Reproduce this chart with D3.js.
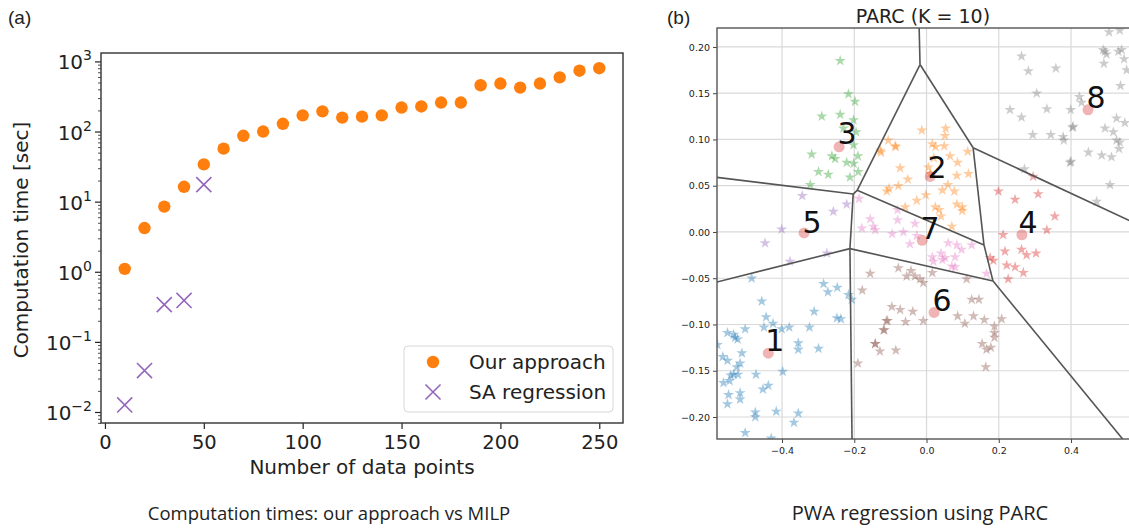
<!DOCTYPE html>
<html>
<head>
<meta charset="utf-8">
<script src="https://cdn.jsdelivr.net/npm/d3@7"></script>
<style>
    body { margin: 0; background: #fff; }
    svg text { font-family: "DejaVu Sans", sans-serif; fill: #222; }
    .caption { font-family: "Open Sans", sans-serif; }
    .panel-tag { font-family: "Liberation Sans", sans-serif; }
</style>
</head>
<body>
<svg id="chart" width="1129" height="528"></svg>
<script>
// ---- panel (a): computation times ----
var nPoints = [10, 20, 30, 40, 50, 60, 70, 80, 90, 100, 110, 120, 130, 140, 150,
    160, 170, 180, 190, 200, 210, 220, 230, 240, 250];
var ourTimes = [1.1, 4.2, 8.5, 16.3, 34, 57, 87, 100, 129, 170, 194, 158, 163, 170, 220,
    228, 259, 259, 457, 484, 423, 484, 593, 737, 800];
var saPoints = [10, 20, 30, 40, 50];
var saTimes = [0.0126, 0.039, 0.34, 0.39, 17.5];
var xTicksA = [0, 50, 100, 150, 200, 250];
var yDecades = [-2, -1, 0, 1, 2, 3];

// ---- panel (b): PARC partition ----
var cluster1 = [[-0.484,-0.050],[-0.456,-0.075],[-0.444,-0.092],[-0.425,-0.099],[-0.450,-0.103],[-0.401,-0.105],
    [-0.380,-0.103],[-0.324,-0.103],[-0.311,-0.086],[-0.285,-0.056],[-0.273,-0.065],[-0.247,-0.060],[-0.216,-0.068],
    [-0.207,-0.073],[-0.248,-0.093],[-0.237,-0.094],[-0.299,-0.126],[-0.355,-0.120],[-0.355,-0.127],[-0.502,-0.105],
    [-0.551,-0.109],[-0.534,-0.111],[-0.530,-0.114],[-0.523,-0.116],[-0.579,-0.122],[-0.511,-0.131],[-0.564,-0.135],
    [-0.551,-0.139],[-0.516,-0.142],[-0.525,-0.146],[-0.534,-0.154],[-0.542,-0.155],[-0.522,-0.154],[-0.472,-0.154],
    [-0.398,-0.151],[-0.562,-0.163],[-0.545,-0.161],[-0.438,-0.166],[-0.453,-0.170],[-0.548,-0.176],[-0.516,-0.174],
    [-0.516,-0.181],[-0.551,-0.186],[-0.474,-0.195],[-0.474,-0.200],[-0.416,-0.194],[-0.355,-0.196],[-0.367,-0.206],
    [-0.502,-0.217],[-0.430,-0.223]];
var cluster2 = [[-0.013,0.110],[0.053,0.112],[0.051,0.104],[-0.106,0.099],[-0.085,0.092],[-0.126,0.086],[0.016,0.095],
    [0.025,0.092],[0.049,0.093],[0.065,0.082],[0.114,0.087],[0.086,0.075],[-0.073,0.069],[0.005,0.070],[0.010,0.063],
    [-0.052,0.057],[0.084,0.061],[0.116,0.063],[-0.104,0.047],[-0.110,0.044],[-0.078,0.050],[0.059,0.051],[0.044,0.045],
    [0.077,0.044],[-0.002,0.040],[-0.027,0.034],[0.084,0.030],[0.099,0.027],[0.099,0.023],[0.024,0.027],[0.035,0.024],
    [-0.059,0.027],[0.040,0.017],[0.070,0.006],[-0.128,0.088],[-0.087,0.093],[0.020,0.080]];
var cluster3 = [[-0.239,0.185],[-0.216,0.149],[-0.198,0.141],[-0.290,0.125],[-0.239,0.127],[-0.202,0.121],[-0.230,0.112],
    [-0.202,0.094],[-0.318,0.084],[-0.262,0.082],[-0.253,0.079],[-0.221,0.075],[-0.202,0.074],[-0.299,0.065],[-0.272,0.062],
    [-0.189,0.065],[-0.212,0.059],[-0.322,0.051],[-0.195,0.108],[-0.190,0.082]];
var cluster4 = [[0.295,0.060],[0.199,0.044],[0.245,0.035],[0.309,0.041],[0.355,0.017],[0.333,0.002],[0.212,-0.003],
    [0.217,-0.021],[0.263,-0.019],[0.277,-0.025],[0.176,-0.028],[0.303,-0.023],[0.222,-0.036],[0.245,-0.038],
    [0.268,-0.044],[0.226,-0.051],[0.185,-0.031]];
var cluster5 = [[-0.344,0.039],[-0.258,0.022],[-0.221,0.030],[-0.401,0.003],[-0.447,-0.012],[-0.378,-0.032],[-0.276,-0.023]];
var cluster6 = [[-0.156,-0.045],[-0.078,-0.039],[-0.055,-0.048],[-0.043,-0.042],[-0.032,-0.048],[-0.018,-0.051],
    [-0.009,-0.055],[0.016,-0.044],[-0.178,-0.063],[-0.096,-0.081],[-0.073,-0.084],[-0.038,-0.086],[-0.108,-0.096],
    [-0.058,-0.097],[-0.009,-0.096],[-0.117,-0.106],[-0.142,-0.121],[-0.129,-0.129],[-0.085,-0.128],[-0.190,-0.142],
    [0.125,-0.073],[0.145,-0.073],[0.086,-0.091],[0.106,-0.099],[0.130,-0.091],[0.160,-0.095],[0.188,-0.102],
    [0.188,-0.109],[0.188,-0.114],[0.208,-0.094],[0.154,-0.121],[0.166,-0.127],[0.178,-0.125],[0.164,-0.146],
    [0.111,-0.051],[-0.111,-0.096],[-0.119,-0.106],[-0.142,-0.121]];
var cluster7 = [[-0.187,0.036],[-0.156,0.014],[-0.179,0.004],[-0.147,0.006],[-0.080,0.024],[-0.080,0.013],[-0.095,-0.002],
    [-0.064,0.000],[-0.032,0.009],[-0.027,-0.004],[-0.046,-0.013],[0.040,-0.023],[0.060,-0.012],[0.084,-0.014],
    [0.097,-0.019],[0.125,-0.014],[0.051,-0.028],[0.079,-0.027],[0.016,-0.027],[0.019,-0.032],[0.044,-0.030],
    [0.070,-0.037],[0.166,-0.045],[0.079,-0.038],[-0.142,0.002]];
var cluster8 = [[0.263,0.190],[0.282,0.174],[0.358,0.177],[0.305,0.150],[0.231,0.132],[0.263,0.124],[0.333,0.133],
    [0.399,0.132],[0.294,0.105],[0.344,0.105],[0.378,0.103],[0.380,0.099],[0.397,0.075],[0.404,0.113],[0.423,0.146],
    [0.429,0.140],[0.494,0.195],[0.531,0.195],[0.491,0.182],[0.537,0.158],[0.526,0.123],[0.494,0.112],[0.517,0.108],
    [0.526,0.099],[0.533,0.090],[0.448,0.086],[0.485,0.083],[0.512,0.081],[0.508,0.051],[0.471,0.033],[0.554,0.175],
    [0.489,0.197],[0.498,0.192],[0.540,0.197],[0.547,0.187],[0.549,0.118],[0.535,0.097],[0.400,0.076],[0.406,0.114],
    [0.271,0.068],[0.535,0.218],[0.505,0.216]];
var clusterColors = ["#1f77b4", "#ff7f0e", "#2ca02c", "#d62728", "#9467bd", "#8c564b", "#e377c2", "#7f7f7f"];
var centroids = [[-0.438,-0.131],[0.010,0.060],[-0.242,0.092],[0.264,-0.003],[-0.339,-0.001],[0.021,-0.087],
    [-0.012,-0.009],[0.447,0.132]];
var labelPos = [[-0.420,-0.117],[0.029,0.070],[-0.220,0.107],[0.281,0.011],[-0.317,0.011],[0.043,-0.074],
    [0.010,0.004],[0.469,0.146]];
var regionNames = ["1", "2", "3", "4", "5", "6", "7", "8"];
// partition edges, pairs of [x, y] ends
var edges = [
    [[-0.021, 0.23], [-0.018, 0.181]],
    [[-0.018, 0.181], [0.129, 0.091]],
    [[-0.018, 0.181], [-0.192, 0.045]],
    [[-0.192, 0.045], [-0.203, 0.041]],
    [[-0.203, 0.041], [-0.60, 0.060]],
    [[-0.203, 0.041], [-0.212, -0.018]],
    [[-0.192, 0.045], [0.159, -0.014]],
    [[0.129, 0.091], [0.159, -0.014]],
    [[0.159, -0.014], [0.184, -0.053]],
    [[0.129, 0.091], [0.58, 0.009]],
    [[0.184, -0.053], [0.56, -0.232]],
    [[-0.212, -0.018], [0.184, -0.053]],
    [[-0.212, -0.018], [-0.60, -0.056]],
    [[-0.212, -0.018], [-0.206, -0.232]]
];
var xTicksB = [-0.4, -0.2, 0.0, 0.2, 0.4];
var yTicksB = [-0.20, -0.15, -0.10, -0.05, 0.00, 0.05, 0.10, 0.15, 0.20];

( function () {

    window.addEventListener('load', init);

    function init() {
        var svg = d3.select("#chart");
        drawTimes(svg);
        drawParc(svg);
    }

    function drawTimes(svg) {
        var left = 101, right = 623, top = 53, bottom = 423;

        var x = d3.scaleLinear().domain([-2, 262]).range([left, right]),
            y = d3.scaleLog().domain([Math.pow(10, -2.157), Math.pow(10, 3.12)]).range([bottom, top]);

        var g = svg.append("g");

        // minor ticks on the log axis
        var minor = [];
        yDecades.concat([-3]).forEach(function (e) {
            for (var k = 2; k < 10; k++) {
                var v = k * Math.pow(10, e);
                if (v > y.domain()[0] && v < y.domain()[1]) minor.push(v);
            }
        });
        var yMinor = g.append("g")
            .attr("transform", "translate(" + left + ",0)")
            .call(d3.axisLeft(y).tickValues(minor).tickSize(3).tickFormat(""));
        yMinor.select(".domain").remove();
        yMinor.selectAll("line").attr("stroke", "#222").attr("stroke-width", 0.8);

        var yAxis = g.append("g")
            .attr("transform", "translate(" + left + ",0)")
            .call(d3.axisLeft(y).tickValues(yDecades.map(function (e) { return Math.pow(10, e); }))
                .tickSize(6).tickFormat(""));
        yAxis.select(".domain").remove();
        yAxis.selectAll("line").attr("stroke", "#222").attr("stroke-width", 1.2);

        // 10^n labels
        yDecades.forEach(function (e) {
            var t = g.append("text")
                .attr("x", left - 9)
                .attr("y", y(Math.pow(10, e)) + 8)
                .attr("text-anchor", "end")
                .style("font-size", "20px");
            t.append("tspan").text("10");
            t.append("tspan")
                .attr("dy", -9)
                .style("font-size", "14px")
                .text(e < 0 ? "\u2212" + (-e) : String(e));
        });

        var xAxis = g.append("g")
            .attr("transform", "translate(0," + bottom + ")")
            .call(d3.axisBottom(x).tickValues(xTicksA).tickSize(6).tickPadding(6));
        xAxis.select(".domain").remove();
        xAxis.selectAll("line").attr("stroke", "#222").attr("stroke-width", 1.2);
        xAxis.selectAll("text")
            .style("font-family", "DejaVu Sans")
            .style("font-size", "19.5px")
            .attr("fill", "#222");

        g.append("rect")
            .attr("x", left).attr("y", top)
            .attr("width", right - left).attr("height", bottom - top)
            .attr("fill", "none")
            .attr("stroke", "#333")
            .attr("stroke-width", 1.4);

        // our approach
        g.selectAll(".dot")
            .data(nPoints)
            .enter().append("circle")
            .attr("class", "dot")
            .attr("cx", function (d) { return x(d); })
            .attr("cy", function (d, i) { return y(ourTimes[i]); })
            .attr("r", 6.2)
            .attr("fill", "#ff7f0e");

        // SA regression
        var cross = d3.symbol().type(d3.symbolX).size(150);
        g.selectAll(".sa")
            .data(saPoints)
            .enter().append("path")
            .attr("class", "sa")
            .attr("d", cross)
            .attr("transform", function (d, i) {
                return "translate(" + x(d) + "," + y(saTimes[i]) + ")";
            })
            .attr("fill", "none")
            .attr("stroke", "#9467bd")
            .attr("stroke-width", 1.6);

        // legend
        var lg = g.append("g");
        lg.append("rect")
            .attr("x", 404).attr("y", 346)
            .attr("width", 209).attr("height", 66)
            .attr("rx", 4)
            .attr("fill", "#fff")
            .attr("fill-opacity", 0.8)
            .attr("stroke", "#d6d6d6");
        lg.append("circle").attr("cx", 433).attr("cy", 362).attr("r", 6.2).attr("fill", "#ff7f0e");
        lg.append("path")
            .attr("d", cross)
            .attr("transform", "translate(433,392)")
            .attr("fill", "none")
            .attr("stroke", "#9467bd")
            .attr("stroke-width", 1.6);
        lg.append("text").attr("x", 469).attr("y", 369).style("font-size", "20px").text("Our approach");
        lg.append("text").attr("x", 469).attr("y", 399).style("font-size", "20px").text("SA regression");

        // axis labels
        g.append("text")
            .attr("transform", "translate(28,240) rotate(-90)")
            .attr("text-anchor", "middle")
            .style("font-size", "20px")
            .text("Computation time [sec]");

        g.append("text")
            .attr("x", 362)
            .attr("y", 474)
            .attr("text-anchor", "middle")
            .style("font-size", "20px")
            .text("Number of data points");

        svg.append("text")
            .attr("class", "caption")
            .attr("x", 329)
            .attr("y", 520)
            .attr("text-anchor", "middle")
            .style("font-size", "18.5px")
            .text("Computation times: our approach vs MILP");

        svg.append("text")
            .attr("class", "panel-tag")
            .attr("x", 8)
            .attr("y", 24)
            .style("font-size", "19px")
            .text("(a)");
    }

    function drawParc(svg) {
        var left = 717, right = 1131, top = 28, bottom = 439;

        var x = d3.scaleLinear().domain([-0.58, 0.566]).range([left, right]),
            y = d3.scaleLinear().domain([-0.2238, 0.2205]).range([bottom, top]);

        var g = svg.append("g");

        svg.append("defs").append("clipPath")
            .attr("id", "clipB")
            .append("rect")
            .attr("x", left).attr("y", top)
            .attr("width", right - left).attr("height", bottom - top);

        // grid
        g.selectAll(".vgrid")
            .data(xTicksB)
            .enter().append("line")
            .attr("class", "vgrid")
            .attr("x1", function (d) { return x(d); })
            .attr("x2", function (d) { return x(d); })
            .attr("y1", top).attr("y2", bottom)
            .attr("stroke", "#d9d9d9").attr("stroke-width", 1.2);
        g.selectAll(".hgrid")
            .data(yTicksB)
            .enter().append("line")
            .attr("class", "hgrid")
            .attr("y1", function (d) { return y(d); })
            .attr("y2", function (d) { return y(d); })
            .attr("x1", left).attr("x2", right)
            .attr("stroke", "#d9d9d9").attr("stroke-width", 1.2);

        var plot = g.append("g").attr("clip-path", "url(#clipB)");

        // data points as stars
        var star = d3.symbol().type(d3.symbolStar).size(38);
        var clusters = [cluster1, cluster2, cluster3, cluster4, cluster5, cluster6, cluster7, cluster8];
        clusters.forEach(function (pts, k) {
            plot.selectAll(".s" + k)
                .data(pts)
                .enter().append("path")
                .attr("class", "s" + k)
                .attr("d", star)
                .attr("transform", function (d) {
                    return "translate(" + x(d[0]) + "," + y(d[1]) + ")";
                })
                .attr("fill", clusterColors[k])
                .attr("fill-opacity", 0.4);
        });

        // centroids
        plot.selectAll(".centroid")
            .data(centroids)
            .enter().append("circle")
            .attr("class", "centroid")
            .attr("cx", function (d) { return x(d[0]); })
            .attr("cy", function (d) { return y(d[1]); })
            .attr("r", 5.5)
            .attr("fill", "#d62728")
            .attr("fill-opacity", 0.35);

        // partition lines
        plot.selectAll(".edge")
            .data(edges)
            .enter().append("line")
            .attr("class", "edge")
            .attr("x1", function (d) { return x(d[0][0]); })
            .attr("y1", function (d) { return y(d[0][1]); })
            .attr("x2", function (d) { return x(d[1][0]); })
            .attr("y2", function (d) { return y(d[1][1]); })
            .attr("stroke", "#555")
            .attr("stroke-width", 1.6);

        // region numbers
        plot.selectAll(".rlabel")
            .data(labelPos)
            .enter().append("text")
            .attr("class", "rlabel")
            .attr("x", function (d) { return x(d[0]); })
            .attr("y", function (d) { return y(d[1]); })
            .attr("dy", "0.36em")
            .attr("text-anchor", "middle")
            .style("font-size", "30px")
            .style("fill", "#111")
            .text(function (d, i) { return regionNames[i]; });

        // axes
        var xAxis = g.append("g")
            .attr("transform", "translate(0," + bottom + ")")
            .call(d3.axisBottom(x).tickValues(xTicksB).tickSize(4).tickPadding(4)
                .tickFormat(function (d) { return d3.format(".1f")(d).replace("-", "\u2212"); }));
        var yAxis = g.append("g")
            .attr("transform", "translate(" + left + ",0)")
            .call(d3.axisLeft(y).tickValues(yTicksB).tickSize(4).tickPadding(3)
                .tickFormat(function (d) { return d3.format(".2f")(d).replace("-", "\u2212"); }));
        [xAxis, yAxis].forEach(function (a) {
            a.select(".domain").remove();
            a.selectAll("line").attr("stroke", "#444");
            a.selectAll("text")
                .style("font-family", "DejaVu Sans")
                .style("font-size", "9.5px")
                .attr("fill", "#333");
        });

        g.append("rect")
            .attr("x", left).attr("y", top)
            .attr("width", right - left).attr("height", bottom - top)
            .attr("fill", "none")
            .attr("stroke", "#555")
            .attr("stroke-width", 1.4);

        svg.append("text")
            .attr("x", 923)
            .attr("y", 23)
            .attr("text-anchor", "middle")
            .style("font-size", "19px")
            .text("PARC (K = 10)");

        svg.append("text")
            .attr("class", "panel-tag")
            .attr("x", 667)
            .attr("y", 24)
            .style("font-size", "19px")
            .text("(b)");

        svg.append("text")
            .attr("class", "caption")
            .attr("x", 920)
            .attr("y", 520)
            .attr("text-anchor", "middle")
            .style("font-size", "20px")
            .text("PWA regression using PARC");
    }
})()
</script>
</body>
</html>
